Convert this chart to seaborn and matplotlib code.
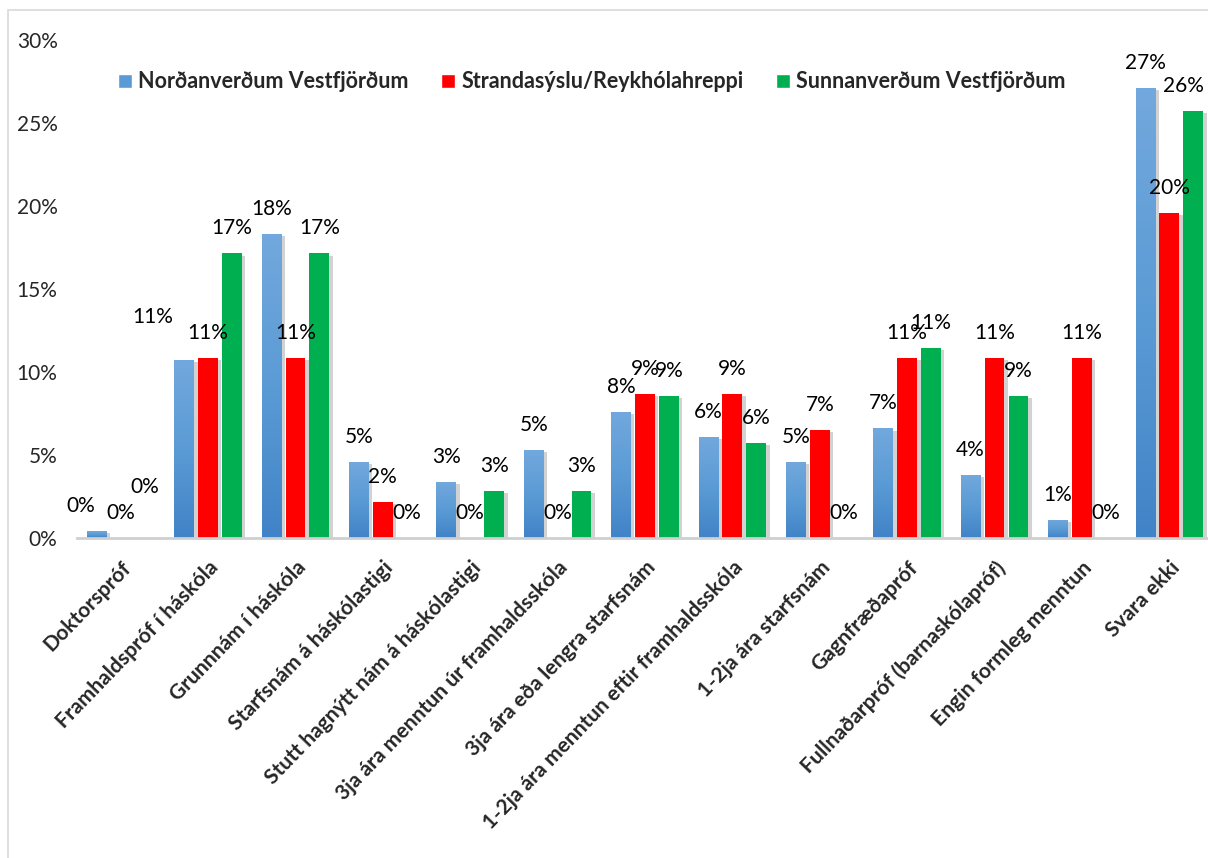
import numpy as np
import pandas as pd
import matplotlib
matplotlib.use('Agg')
import matplotlib.pyplot as plt
import matplotlib.patheffects as pe
import matplotlib.transforms as mtransforms
from matplotlib.colors import LinearSegmentedColormap
from matplotlib.patches import Rectangle
import seaborn as sns

categories = ['Doktorspróf', 'Framhaldspróf í háskóla', 'Grunnnám í háskóla',
              'Starfsnám á háskólastigi', 'Stutt hagnýtt nám á háskólastigi',
              '3ja ára menntun úr framhaldsskóla', '3ja ára eða lengra starfsnám',
              '1-2ja ára menntun eftir framhaldsskóla', '1-2ja ára starfsnám',
              'Gagnfræðapróf', 'Fullnaðarpróf (barnaskólapróf)', 'Engin formleg menntun',
              'Svara ekki']
series = ['Norðanverðum Vestfjörðum', 'Strandasýslu/Reykhólahreppi', 'Sunnanverðum Vestfjörðum']

# percent values
nordan = [0.4, 10.7, 18.3, 4.6, 3.4, 5.3, 7.6, 6.1, 4.6, 6.6, 3.8, 1.1, 27.1]
stranda = [0.0, 10.87, 10.87, 2.17, 0.0, 0.0, 8.70, 8.70, 6.52, 10.87, 10.87, 10.87, 19.57]
sunnan = [0.0, 17.14, 17.14, 0.0, 2.86, 2.86, 8.57, 5.71, 0.0, 11.43, 8.57, 0.0, 25.71]

colors = ['#5B9BD5', '#FF0000', '#00B050']

df = pd.DataFrame({
    'cat': categories * 3,
    'series': np.repeat(series, len(categories)),
    'val': nordan + stranda + sunnan,
})

sns.set_style('white')
plt.rcParams['font.family'] = ['Lato', 'DejaVu Sans']

fig = plt.figure(figsize=(12.08, 8.58), dpi=100)
ax = fig.add_axes([77 / 1208, 1 - 538 / 858, 1136 / 1208, 498 / 858])

sns.barplot(data=df, x='cat', y='val', hue='series', hue_order=series, order=categories,
            palette=colors, saturation=1, width=0.82, gap=0.17, errorbar=None,
            legend=False, ax=ax)

shadow = [pe.SimplePatchShadow(offset=(2.5, -1.5), shadow_rgbFace='#909090', alpha=0.4), pe.Normal()]
for cont in ax.containers:
    for p in cont:
        p.set_path_effects(shadow)
        p.set_edgecolor('none')

# blue bars have a light-to-dark gradient
blue_cmap = LinearSegmentedColormap.from_list('bl', ['#4183C7', '#5B9BD5', '#72A8DD'])
grad = np.linspace(0, 1, 100).reshape(-1, 1)
for p in ax.containers[0]:
    x0 = p.get_x()
    h = p.get_height()
    if h <= 0:
        continue
    im = ax.imshow(grad, extent=[x0, x0 + p.get_width(), 0, h], origin='lower',
                   aspect='auto', cmap=blue_cmap, zorder=p.get_zorder() + 0.1)
    im.set_clip_path(p)
ax.set_ylim(0, 30)
ax.set_xlim(-0.5, len(categories) - 0.5)

# data labels, nudges in pixels for the few labels moved by hand
nudge = {(0, 0): (-16, 0), (0, 2): (0, 26), (1, 0): (-31, 18), (12, 2): (-10, 0)}
for s, cont in enumerate(ax.containers):
    for i, p in enumerate(cont):
        dx, dy = nudge.get((i, s), (0, 0))
        ax.annotate('{:.0f}%'.format(p.get_height()),
                    xy=(p.get_x() + p.get_width() / 2, p.get_height()),
                    xytext=(dx * 0.72, (25 + dy) * 0.72), textcoords='offset points',
                    ha='center', va='center', fontsize=15, color='#000000',
                    annotation_clip=False)

ax.set_yticks(np.arange(0, 31, 5))
ax.set_yticklabels(['{}%'.format(v) for v in range(0, 31, 5)], fontsize=15)
ax.set_xticks(range(len(categories)))
ax.set_xticklabels(categories, rotation=46, ha='right', rotation_mode='anchor',
                   fontsize=15.2, fontweight='bold')
shift = mtransforms.ScaledTranslation(-6 / 100, 0, fig.dpi_scale_trans)
for lab in ax.get_xticklabels():
    lab.set_transform(lab.get_transform() + shift)
ax.tick_params(axis='y', length=0, pad=14)
ax.tick_params(axis='x', length=0, pad=14)
ax.set_xlabel('')
ax.set_ylabel('')
for side in ['left', 'top', 'right']:
    ax.spines[side].set_visible(False)
ax.spines['bottom'].set_color('#CFCFCF')
ax.spines['bottom'].set_linewidth(2)

handles = [Rectangle((0, 0), 1, 1, facecolor=c) for c in colors]
leg = fig.legend(handles, series, loc='center', bbox_to_anchor=(0.49, 1 - 82 / 858), ncol=3,
                 frameon=False, prop={'weight': 'bold', 'size': 15.5},
                 handlelength=0.65, handleheight=0.65, handletextpad=0.3, columnspacing=1.5)

fig.add_artist(Rectangle((8 / 1208, -0.1), 1.2, 0.1 + 1 - 10 / 858, transform=fig.transFigure,
                         fill=False, edgecolor='#D9D9D9', linewidth=1.2))

fig.savefig('out.png', dpi=100)
